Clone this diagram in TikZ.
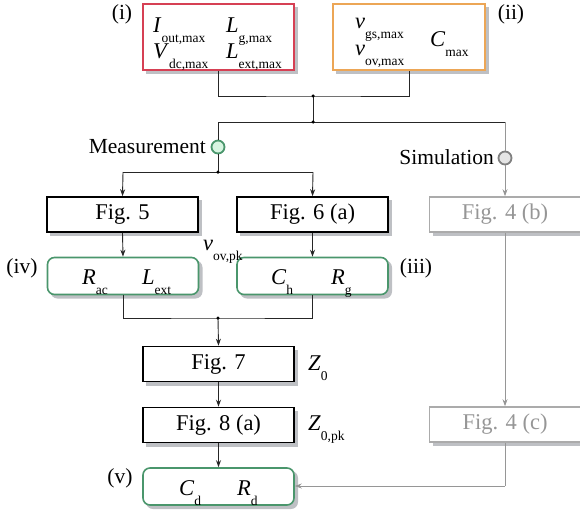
\documentclass[tikz,border=0pt]{standalone}
\usepackage{fontspec}
\setmainfont{Liberation Serif}
\newfontfamily\tnr{Liberation Serif}
\usetikzlibrary{arrows.meta}
\definecolor{cred}{RGB}{214,64,84}
\definecolor{corange}{RGB}{236,166,86}
\definecolor{cgreen}{RGB}{74,150,108}
\definecolor{cgreenfill}{RGB}{215,245,225}
\definecolor{cgray}{RGB}{150,150,150}
\definecolor{cshadow}{RGB}{190,192,196}
\newcommand\qsym[2]{\textit{#1}\raisebox{-0.45em}{\fontsize{13.5}{13.5}\selectfont #2}}
\tikzset{
  every node/.style={font=\tnr},
  figbox/.style={draw=black,line width=1.6pt,fill=white,minimum width=151pt,minimum height=35pt,inner sep=0pt,font=\tnr\fontsize{22.5}{22.5}\selectfont},
  graybox/.style={figbox,draw=cgray!80,text=cgray},
  parbox/.style={draw,line width=1.6pt,fill=white,inner sep=0pt},
  greenbox/.style={parbox,draw=cgreen,rounded corners=7pt,minimum width=151pt,minimum height=37pt},
  sym/.style={font=\tnr\fontsize{22.5}{22.5}\selectfont,inner sep=0pt,anchor=base west},
  lab/.style={font=\tnr\fontsize{21.5}{21.5}\selectfont,inner sep=0pt},
  arr/.style={-{Stealth[length=7pt,width=5pt]}},
  con/.style={line width=0.9pt,black!85},
  gcon/.style={line width=0.9pt,cgray},
  dot/.style={circle,fill=black,inner sep=0pt,minimum size=3.5pt},
  shadowfill/.style={fill=cshadow},
}
\newcommand\shadowrect[4]{\fill[shadowfill] (#1+3,#2+3) rectangle (#3+4,#4+4);}
\newcommand\shadowround[4]{\fill[shadowfill,rounded corners=7pt] (#1+3,#2+3) rectangle (#3+4,#4+4);}
\begin{document}
\begin{tikzpicture}[x=1pt,y=-1pt]
\useasboundingbox (0,0) rectangle (580,512);
% shadows
\shadowrect{143}{4}{294}{70}
\shadowrect{333}{4}{485}{70}
\shadowrect{47}{197}{198}{232}
\shadowrect{237}{197}{388}{232}
\shadowrect{429.5}{197}{580.5}{232}
\shadowrect{143}{346.5}{294}{381.5}
\shadowrect{143}{407.5}{294}{442.5}
\shadowrect{429.5}{407}{580.5}{442}
\shadowround{47.5}{257.5}{198.5}{294.5}
\shadowround{237}{257.5}{388}{294.5}
\shadowround{143}{468}{294}{505}
% top boxes
\node[parbox,draw=cred,minimum width=151pt,minimum height=66pt] (i) at (218.5,37) {};
\node[parbox,draw=corange,minimum width=152pt,minimum height=66pt] (ii) at (409,37) {};
\node[sym] (s1) at (153,32) {\qsym{I}{out,max}};
\node[sym] (s2) at (226,32) {\qsym{L}{g,max}};
\node[sym] (s3) at (153,58) {\qsym{V}{dc,max}};
\node[sym] (s4) at (226,58) {\qsym{L}{ext,max}};
\node[sym] (s5) at (355,28) {\qsym{v}{gs,max}};
\node[sym] (s6) at (355,55) {\qsym{v}{ov,max}};
\node[sym] (s7) at (430,46) {\qsym{C}{max}};
\node[lab] (li) at (122,14) {(i)};
\node[lab] (lii) at (511,14) {(ii)};
% fig boxes
\node[figbox] (f5) at (122.5,214.5) {Fig. 5};
\node[figbox] (f6) at (312.5,214.5) {Fig. 6 (a)};
\node[graybox] (f4b) at (505,214.5) {Fig. 4 (b)};
\node[greenbox] (iv) at (123,276) {};
\node[greenbox] (iii) at (312.5,276) {};
\node[sym] (s8) at (82,284) {\qsym{R}{ac}};
\node[sym] (s9) at (142,284) {\qsym{L}{ext}};
\node[sym] (s10) at (271,284) {\qsym{C}{h}};
\node[sym] (s11) at (331,284) {\qsym{R}{g}};
\node[lab] (liv) at (22,268) {(iv)};
\node[lab] (liii) at (416,268) {(iii)};
\node[sym] (s12) at (203,250) {\qsym{v}{ov,pk}};
\node[figbox] (f7) at (218.5,364) {Fig. 7};
\node[figbox] (f8) at (218.5,425) {Fig. 8 (a)};
\node[graybox] (f4c) at (505,424.5) {Fig. 4 (c)};
\node[greenbox] (v) at (218.5,486.5) {};
\node[sym] (s13) at (179,495) {\qsym{C}{d}};
\node[sym] (s14) at (237,495) {\qsym{R}{d}};
\node[lab] (lv) at (120,478) {(v)};
\node[sym] (s15) at (308,370) {\qsym{Z}{0}};
\node[sym] (s16) at (308,430) {\qsym{Z}{0,pk}};
% measurement / simulation
\node[circle,draw=cgreen,fill=cgreenfill,line width=1.8pt,minimum size=13pt,inner sep=0pt] (meas) at (218,147) {};
\node[circle,draw=gray,fill=gray!20,line width=1.8pt,minimum size=13pt,inner sep=0pt] (sim) at (505,158) {};
\node[lab,anchor=east] (mt) at (206,147) {Measurement};
\node[lab,anchor=east] (st) at (494,157) {Simulation};
% coordinates
\coordinate (j1) at (313,96);
\coordinate (j2) at (313,122);
\coordinate (m0) at (218,122);
\coordinate (s0) at (505,122);
\coordinate (m1) at (218,172);
\coordinate (a5) at (123,172);
\coordinate (a6) at (313,172);
\coordinate (j3) at (218,318);
\coordinate (c4) at (505,486);
% connectors
\draw[con] (i.south) |- (j1) -| (ii.south);
\draw[con] (j1) -- (j2);
\draw[con] (m0) -- (s0);
\draw[gcon] (s0) -- (sim.north);
\draw[con] (m0) -- (meas.north);
\draw[con] (meas.south) -- (m1);
\draw[con] (a5) -- (a6);
\draw[con,arr] (a5) -- (f5.north);
\draw[con,arr] (a6) -- (f6.north);
\draw[gcon,arr] (sim.south) -- (f4b.north);
\draw[con,arr] (f5.south) -- (iv.north);
\draw[con,arr] (f6.south) -- (iii.north);
\draw[con] (iv.south) |- (j3) -| (iii.south);
\draw[con,arr] (j3) -- (f7.north);
\draw[con,arr] (f7.south) -- (f8.north);
\draw[con,arr] (f8.south) -- (v.north);
\draw[gcon,arr] (f4b.south) -- (f4c.north);
\draw[gcon] (f4c.south) -- (c4);
\draw[gcon,arr] (c4) -- (v.east |- c4);
\node[dot] (d1) at (j1) {};
\node[dot] (d2) at (j2) {};
\node[dot] (d3) at (m1) {};
\node[dot] (d4) at (j3) {};
\end{tikzpicture}
\end{document}
